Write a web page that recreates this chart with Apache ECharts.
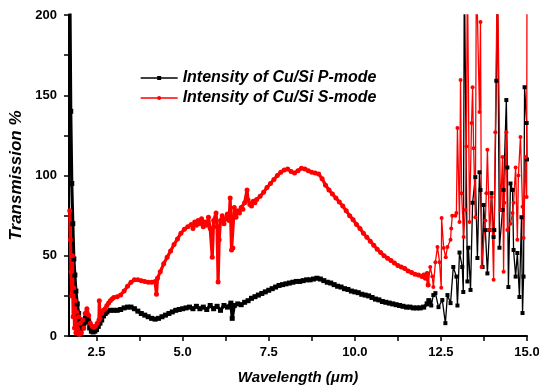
<!DOCTYPE html>
<html>
<head>
<meta charset="utf-8">
<script src="https://cdn.jsdelivr.net/npm/echarts@6/dist/echarts.min.js"></script>
<style>
  html, body { margin: 0; padding: 0; background: #fff; }
  #chart { width: 539px; height: 389px; }
</style>
</head>
<body>
<div id="chart"></div>
<script>
// P-mode (black), wavelength in um / transmission %
const pWave = [1.72, 1.75, 1.78, 1.81, 1.84, 1.87, 1.9, 1.94, 1.98, 2.02, 2.06, 2.1, 2.14, 2.18, 2.22, 2.26, 2.3, 2.35, 2.4, 2.45,
  2.5, 2.55, 2.6, 2.65, 2.7, 2.75, 2.8, 2.9, 3.0, 3.1, 3.2, 3.3, 3.4, 3.5, 3.6, 3.7, 3.8, 3.9, 4.0, 4.1,
  4.2, 4.3, 4.4, 4.5, 4.6, 4.7, 4.8, 4.9, 5.0, 5.1, 5.2, 5.3, 5.4, 5.5, 5.6, 5.7, 5.8, 5.9, 6.0, 6.1,
  6.2, 6.3, 6.4, 6.44, 6.5, 6.6, 6.7, 6.8, 6.9, 7.0, 7.1, 7.2, 7.3, 7.4, 7.5, 7.6, 7.7, 7.8, 7.9, 8.0,
  8.1, 8.2, 8.3, 8.4, 8.5, 8.6, 8.7, 8.8, 8.9, 9.0, 9.1, 9.2, 9.3, 9.4, 9.5, 9.6, 9.7, 9.8, 9.9, 10.0,
  10.1, 10.2, 10.3, 10.4, 10.5, 10.6, 10.7, 10.8, 10.9, 11.0, 11.1, 11.2, 11.3, 11.4, 11.5, 11.6, 11.7, 11.8, 11.9, 12.0,
  12.1, 12.15, 12.19, 12.22, 12.28, 12.34, 12.43, 12.54, 12.63, 12.69, 12.78, 12.86, 12.95, 12.98, 13.04, 13.12, 13.15, 13.18, 13.27, 13.3,
  13.36, 13.42, 13.5, 13.56, 13.62, 13.65, 13.71, 13.74, 13.79, 13.85, 13.91, 13.97, 14.03, 14.05, 14.11, 14.14, 14.2, 14.29, 14.32, 14.4,
  14.43, 14.46, 14.52, 14.58, 14.61, 14.67, 14.72, 14.78, 14.84, 14.87, 14.9, 14.93, 14.99, 15.0];
const pT = [230, 140, 95, 70, 48, 38, 28, 20, 14, 10, 7, 5, 8, 11, 12, 9, 5, 3, 2.5, 3,
  4, 6, 8, 10, 12.5, 14, 15, 16, 16, 16, 16.5, 17.5, 18, 18, 17, 15.5, 14, 13, 12, 11,
  10.5, 11, 12, 13, 14, 15, 16, 16.5, 17, 17.5, 18, 17, 18.5, 17, 18, 16.5, 19, 17, 18.5, 16,
  19, 18, 20.5, 11, 19, 20, 19.5, 21, 22, 23.5, 24.5, 25.5, 26.5, 27.5, 28.5, 29.5, 30.5, 31.5, 32, 32.5,
  33, 33.5, 34, 34, 34.5, 35, 35, 35.5, 36, 35.5, 34.5, 33.5, 33, 32, 31, 30.5, 29.5, 29, 28, 27.5,
  27, 26, 25.5, 25, 24, 23, 22.5, 21.5, 21, 20.5, 20, 19.5, 19, 18.5, 18, 18, 17.5, 17.5, 17.5, 18,
  20, 22, 21, 19, 25.5, 26.7, 18, 22.4, 8, 25.5, 20.5, 43, 37, 19, 52, 43, 27.4, 230, 34, 55,
  28.7, 83, 99, 48.6, 102, 91, 43, 81.6, 66, 39, 66, 89, 61.7, 66, 159, 230, 55, 78.5, 91, 147,
  105, 30.5, 95, 91, 53.6, 37, 51.7, 24.3, 74, 14.3, 37, 155, 132.7, 110];

// S-mode (red)
const sWave = [1.72, 1.74, 1.76, 1.78, 1.8, 1.82, 1.84, 1.86, 1.88, 1.9, 1.92, 1.95, 1.98, 2.0, 2.03, 2.06, 2.1, 2.13, 2.17, 2.22,
  2.27, 2.32, 2.37, 2.42, 2.47, 2.52, 2.57, 2.58, 2.6, 2.65, 2.7, 2.75, 2.8, 2.85, 2.9, 2.95, 3.0, 3.1, 3.2, 3.3,
  3.4, 3.5, 3.6, 3.7, 3.8, 3.9, 4.0, 4.1, 4.2, 4.24, 4.27, 4.35, 4.45, 4.55, 4.65, 4.75, 4.85, 4.95, 5.05, 5.15,
  5.25, 5.3, 5.35, 5.4, 5.45, 5.5, 5.55, 5.6, 5.65, 5.7, 5.75, 5.8, 5.86, 5.9, 5.97, 6.0, 6.03, 6.06, 6.1, 6.15,
  6.2, 6.25, 6.3, 6.35, 6.38, 6.42, 6.46, 6.5, 6.55, 6.6, 6.65, 6.7, 6.75, 6.8, 6.87, 6.9, 6.95, 7.0, 7.05, 7.1,
  7.15, 7.25, 7.35, 7.45, 7.55, 7.65, 7.75, 7.85, 7.95, 8.05, 8.15, 8.25, 8.35, 8.45, 8.55, 8.65, 8.75, 8.85, 8.95, 9.05,
  9.15, 9.25, 9.35, 9.45, 9.55, 9.65, 9.75, 9.85, 9.95, 10.05, 10.15, 10.25, 10.35, 10.45, 10.55, 10.65, 10.75, 10.85, 10.95, 11.05,
  11.15, 11.25, 11.35, 11.45, 11.55, 11.65, 11.75, 11.85, 11.95, 12.0, 12.05, 12.1, 12.13, 12.19, 12.25, 12.28, 12.34, 12.4, 12.46, 12.51,
  12.52, 12.58, 12.64, 12.69, 12.78, 12.8, 12.83, 12.92, 12.95, 12.98, 13.04, 13.07, 13.1, 13.16, 13.21, 13.24, 13.27, 13.33, 13.39, 13.42,
  13.45, 13.5, 13.53, 13.62, 13.65, 13.68, 13.79, 13.82, 13.85, 13.91, 13.97, 14.03, 14.08, 14.14, 14.17, 14.23, 14.29, 14.32, 14.34, 14.4,
  14.43, 14.52, 14.58, 14.61, 14.67, 14.72, 14.75, 14.81, 14.87, 14.9, 14.96, 14.99, 15.0];
const sT = [78, 60, 40, 25, 50, 12, 30, 5, 22, 2, 15, 3, 12, 1, 8, 2, 10, 5, 14, 17,
  13, 8, 6, 5.5, 6, 8, 10, 22, 11, 14, 16, 17, 19, 20.5, 22, 23, 24, 24.5, 25.5, 28,
  31, 33.5, 35, 35, 34.5, 34, 33.5, 33.5, 34, 26, 36, 40, 45, 49, 53, 57, 60.5, 64, 66.5, 68,
  69.5, 67, 71, 69, 72, 70, 73, 68, 71, 69, 74, 67, 49, 72, 76.6, 68, 33.6, 60, 72, 75,
  70, 73, 76, 72, 86, 53.6, 54.8, 80, 74, 78, 76.6, 80, 79, 83, 91, 84.7, 82, 81, 84, 83,
  85, 87, 89.5, 92.5, 95, 97.5, 100, 102, 103.5, 104, 102.5, 101.5, 103, 104.5, 104, 103, 102, 101.5, 101, 98,
  94, 91, 88.5, 86, 83.5, 81, 78, 75, 72.5, 69.5, 67, 64, 61.5, 59, 56.5, 54, 52, 50, 48.5, 47,
  45.5, 44, 43, 42, 40.5, 39.5, 38.5, 38, 37, 38, 36, 39, 31.8, 43, 37, 30.5, 46, 55.5, 46, 30,
  73.5, 54.8, 49, 55.5, 60, 67, 75, 75, 76.6, 129.6, 71, 159.5, 89, 61.7, 78.5, 118, 230, 71, 132.7, 155,
  117, 74, 230, 139.6, 195.6, 43, 72, 89, 116, 66, 86.6, 35, 127, 230, 230, 78.5, 111.5, 40, 83, 127,
  66, 70, 76.6, 83, 105, 60, 100, 124, 80.5, 61, 111.5, 86.6, 230];

const xLabels = [2.5, 5.0, 7.5, 10.0, 12.5, 15.0];
const xTicks = [2.5, 3.75, 5.0, 6.25, 7.5, 8.75, 10.0, 11.25, 12.5, 13.75, 15.0];
const yTicks = [0, 25, 50, 75, 100, 125, 150, 175, 200];

const P_NAME = 'Intensity of Cu/Si P-mode';
const S_NAME = 'Intensity of Cu/Si S-mode';
const SPLIT = 12.15; // dense scan below, sparse noisy scan above
const font = 'Arial, "Liberation Sans", sans-serif';

const zip = (xs, ys) => xs.map((x, i) => [x, ys[i]]);
const dense = (pts) => pts.filter((p) => p[0] <= SPLIT);
const sparse = (pts) => pts.filter((p) => p[0] >= SPLIT - 0.06);

const pData = zip(pWave, pT);
const sData = zip(sWave, sT);

// same name twice -> one legend entry, two line weights
const mkSeries = (name, data, color, symbol, width, size) => ({
  name,
  type: 'line',
  data,
  symbol,
  symbolSize: size,
  clip: true,
  color,
  lineStyle: { color, width },
  itemStyle: { color },
});

const chart = echarts.init(document.getElementById('chart'));
const option = {
  backgroundColor: '#fff',
  animation: false,
  grid: { left: 69, right: 12, top: 15, bottom: 53, outerBoundsMode: 'none', containLabel: false },
  legend: {
    orient: 'vertical',
    left: 135,
    top: 65,
    itemWidth: 37,
    itemHeight: 5,
    itemGap: 4,
    lineStyle: { width: 1.3 },
    textStyle: { fontFamily: font, fontSize: 16, fontWeight: 'bold', fontStyle: 'italic', color: '#000' },
    data: [P_NAME, S_NAME],
  },
  xAxis: {
    type: 'value',
    min: 1.7,
    max: 15,
    name: 'Wavelength (\u03bcm)',
    nameLocation: 'middle',
    nameGap: 34,
    nameTextStyle: { fontFamily: font, fontSize: 15, fontWeight: 'bold', fontStyle: 'italic', color: '#000' },
    axisLine: { lineStyle: { color: '#000', width: 2 } },
    axisTick: { show: true, length: 5, customValues: xTicks, lineStyle: { color: '#000', width: 1.5 } },
    axisLabel: {
      customValues: xLabels,
      margin: 10,
      color: '#000',
      fontFamily: font,
      fontSize: 13,
      fontWeight: 'bold',
      formatter: (v) => v.toFixed(1),
    },
    splitLine: { show: false },
  },
  yAxis: {
    type: 'value',
    min: 0,
    max: 200,
    interval: 50,
    name: 'Transmission %',
    nameLocation: 'middle',
    nameGap: 34,
    nameTextStyle: { fontFamily: font, fontSize: 17, fontWeight: 'bold', fontStyle: 'italic', color: '#000' },
    axisLine: { show: true, lineStyle: { color: '#000', width: 2 } },
    axisTick: { show: true, length: 5, customValues: yTicks, lineStyle: { color: '#000', width: 1.5 } },
    axisLabel: { margin: 12, color: '#000', fontFamily: font, fontSize: 13, fontWeight: 'bold' },
    splitLine: { show: false },
  },
  series: [
    mkSeries(P_NAME, dense(pData), '#000', 'rect', 3.2, 5),
    mkSeries(S_NAME, dense(sData), '#f00', 'circle', 3.2, 5),
    mkSeries(P_NAME, sparse(pData), '#000', 'rect', 1.3, 4),
    mkSeries(S_NAME, sparse(sData), '#f00', 'circle', 1.3, 4),
  ],
};
chart.setOption(option);
</script>
</body>
</html>
